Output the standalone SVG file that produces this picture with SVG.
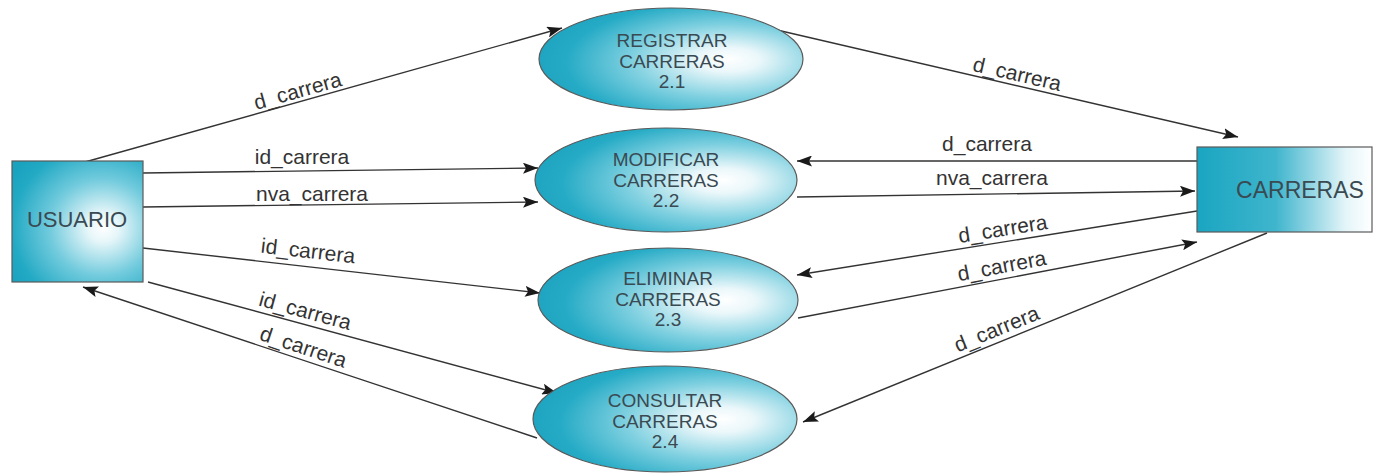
<svg xmlns="http://www.w3.org/2000/svg" width="1373" height="473" viewBox="0 0 1373 473">
<defs>
<radialGradient id="gE" cx="0.7" cy="0.55" r="0.8" fx="0.72" fy="0.5">
<stop offset="0" stop-color="#ffffff"/>
<stop offset="0.15" stop-color="#eaf7fa"/>
<stop offset="0.45" stop-color="#7fd0e0"/>
<stop offset="0.75" stop-color="#26abc6"/>
<stop offset="1" stop-color="#179fbb"/>
</radialGradient>
<radialGradient id="gU" cx="0.68" cy="0.55" r="0.8" fx="0.7" fy="0.55">
<stop offset="0" stop-color="#ffffff"/>
<stop offset="0.15" stop-color="#e6f6f9"/>
<stop offset="0.5" stop-color="#72cbdd"/>
<stop offset="0.85" stop-color="#22a9c4"/>
<stop offset="1" stop-color="#1aa3bf"/>
</radialGradient>
<linearGradient id="gC" x1="0" y1="0" x2="1" y2="0">
<stop offset="0" stop-color="#1aa5c1"/>
<stop offset="0.45" stop-color="#3fb5cd"/>
<stop offset="0.85" stop-color="#e4f5f9"/>
<stop offset="1" stop-color="#ffffff"/>
</linearGradient>
<marker id="arr" viewBox="0 0 15 11" refX="15" refY="5.5" markerWidth="15" markerHeight="11" markerUnits="userSpaceOnUse" orient="auto">
<path d="M0,0 L15,5.5 L0,11 L3,5.5 Z" fill="#1a1a1a"/>
</marker>
<style>
.n{stroke:#5a5a5a;stroke-width:1.2}
.nt{font-family:"Liberation Sans",Arial,sans-serif;font-size:19px;fill:#3a4a52;text-anchor:middle}
.c{stroke:#333;stroke-width:1.4;fill:none;marker-end:url(#arr)}
.l{font-family:"Liberation Sans",Arial,sans-serif;font-size:21px;fill:#333;text-anchor:middle}
</style>
</defs>

<g id="connectors">
<line class="c" x1="85" y1="162" x2="562" y2="28"/>
<text class="l" x="298" y="98" transform="rotate(-15.7 298 92)">d_carrera</text>
<line class="c" x1="777" y1="30" x2="1238" y2="137"/>
<text class="l" x="1017" y="81" transform="rotate(13.1 1017 75)">d_carrera</text>
<line class="c" x1="143" y1="173" x2="538" y2="168"/>
<text class="l" x="302" y="164">id_carrera</text>
<line class="c" x1="143" y1="207" x2="538" y2="202"/>
<text class="l" x="312" y="201">nva_carrera</text>
<line class="c" x1="1197" y1="161" x2="797" y2="161"/>
<text class="l" x="987" y="151">d_carrera</text>
<line class="c" x1="797" y1="197" x2="1195" y2="191"/>
<text class="l" x="992" y="185">nva_carrera</text>
<line class="c" x1="143" y1="248" x2="540" y2="293"/>
<text class="l" x="308" y="258" transform="rotate(6.5 308 252)">id_carrera</text>
<line class="c" x1="1197" y1="211" x2="797" y2="275"/>
<text class="l" x="1003" y="236" transform="rotate(-9.1 1003 230)">d_carrera</text>
<line class="c" x1="798" y1="318" x2="1197" y2="242"/>
<text class="l" x="1002" y="273" transform="rotate(-10.8 1002 267)">d_carrera</text>
<line class="c" x1="148" y1="282" x2="557" y2="393"/>
<text class="l" x="305" y="318" transform="rotate(15.2 305 312)">id_carrera</text>
<line class="c" x1="537" y1="438" x2="83" y2="287"/>
<text class="l" x="303" y="354" transform="rotate(18.4 303 348)">d_carrera</text>
<line class="c" x1="1267" y1="233" x2="803" y2="422"/>
<text class="l" x="997" y="336" transform="rotate(-22.2 997 330)">d_carrera</text>
</g>

<g id="usuario">
<rect class="n" x="12" y="161" width="131" height="121" fill="url(#gU)"/>
<text class="nt" x="77" y="227" style="font-size:22px">USUARIO</text>
</g>

<g id="carreras">
<rect class="n" x="1197" y="147" width="175" height="85" fill="url(#gC)"/>
<text class="nt" x="1300" y="198" style="font-size:23px">CARRERAS</text>
</g>

<g id="p21">
<ellipse class="n" cx="671" cy="59" rx="132" ry="51" fill="url(#gE)"/>
<text class="nt" x="672" y="47">REGISTRAR</text>
<text class="nt" x="672" y="68">CARRERAS</text>
<text class="nt" x="672" y="88">2.1</text>
</g>

<g id="p22">
<ellipse class="n" cx="666" cy="180" rx="131" ry="52" fill="url(#gE)"/>
<text class="nt" x="666" y="166">MODIFICAR</text>
<text class="nt" x="666" y="187">CARRERAS</text>
<text class="nt" x="666" y="207">2.2</text>
</g>

<g id="p23">
<ellipse class="n" cx="668" cy="300" rx="130" ry="52" fill="url(#gE)"/>
<text class="nt" x="668" y="285">ELIMINAR</text>
<text class="nt" x="668" y="306">CARRERAS</text>
<text class="nt" x="668" y="326">2.3</text>
</g>

<g id="p24">
<ellipse class="n" cx="665" cy="419" rx="132" ry="53" fill="url(#gE)"/>
<text class="nt" x="665" y="407">CONSULTAR</text>
<text class="nt" x="665" y="428">CARRERAS</text>
<text class="nt" x="665" y="448">2.4</text>
</g>
</svg>
